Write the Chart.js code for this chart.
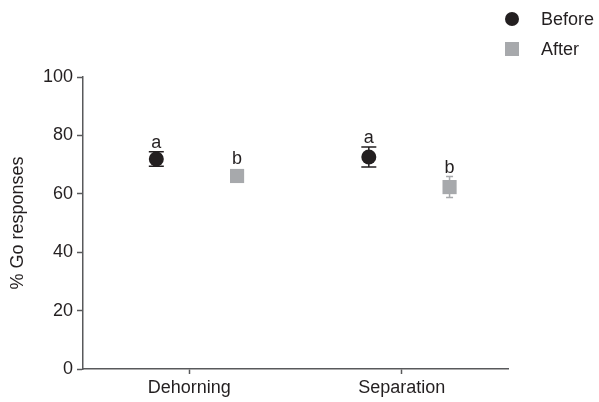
<!DOCTYPE html>
<html>
<head>
<meta charset="utf-8">
<script src="https://cdn.jsdelivr.net/npm/chart.js@4"></script>
<style>
html,body{margin:0;padding:0;background:#fff;}
#wrap{width:599px;height:402px;position:relative;}
</style>
</head>
<body>
<div id="wrap"><canvas id="c"></canvas></div>
<script>
const categories = ['Dehorning', 'Separation'];
const beforeValues = [71.9, 72.6];
const beforeErrors = [2.5, 3.4];
const beforeLetters = ['a', 'a'];
const afterValues = [66.1, 62.3];
const afterErrors = [1.5, 3.6];
const afterLetters = ['b', 'b'];
const yTicks = [0, 20, 40, 60, 80, 100];

const FONT = "'Liberation Sans', Arial, Helvetica, sans-serif";
const FS = 18;
const TEXT_COLOR = '#231f20';
const BEFORE_COLOR = '#231f20';
const AFTER_COLOR = '#a7a9ac';
const AXIS_COLOR = '#58595b';
const BEFORE_OFFSET = -0.31;
const AFTER_OFFSET = 0.45;

function catX(i) { return 1 + 2 * i; }

const datasets = [
  {
    label: 'Before',
    data: beforeValues.map((v, i) => ({x: catX(i) + BEFORE_OFFSET, y: v})),
    errors: beforeErrors, letters: beforeLetters, capHalf: 7.5,
    pointStyle: 'circle', pointRadius: 7.5, pointHoverRadius: 7.5,
    backgroundColor: BEFORE_COLOR, borderColor: BEFORE_COLOR, borderWidth: 0,
    showLine: false
  },
  {
    label: 'After',
    data: afterValues.map((v, i) => ({x: catX(i) + AFTER_OFFSET, y: v})),
    errors: afterErrors, letters: afterLetters, capHalf: 3.5,
    pointStyle: 'rect', pointRadius: 10, pointHoverRadius: 10,
    backgroundColor: AFTER_COLOR, borderColor: AFTER_COLOR, borderWidth: 0,
    showLine: false
  }
];

const errorPlugin = {
  id: 'errorBars',
  beforeDatasetsDraw(chart) {
    const ctx = chart.ctx, ys = chart.scales.y, xs = chart.scales.x;
    chart.data.datasets.forEach(ds => {
      ds.data.forEach((p, i) => {
        const x = xs.getPixelForValue(p.x);
        const top = ys.getPixelForValue(p.y + ds.errors[i]);
        const bot = ys.getPixelForValue(p.y - ds.errors[i]);
        ctx.save();
        ctx.strokeStyle = ds.borderColor;
        ctx.lineWidth = 1.5;
        ctx.beginPath();
        ctx.moveTo(x, top); ctx.lineTo(x, bot);
        ctx.moveTo(x - ds.capHalf, top); ctx.lineTo(x + ds.capHalf, top);
        ctx.moveTo(x - ds.capHalf, bot); ctx.lineTo(x + ds.capHalf, bot);
        ctx.stroke();
        ctx.restore();
      });
    });
  },
  afterDatasetsDraw(chart) {
    const ctx = chart.ctx, ys = chart.scales.y, xs = chart.scales.x;
    chart.data.datasets.forEach(ds => {
      ds.data.forEach((p, i) => {
        const x = xs.getPixelForValue(p.x);
        const cy = ys.getPixelForValue(p.y);
        const top = Math.min(ys.getPixelForValue(p.y + ds.errors[i]), cy - 7.5);
        ctx.save();
        ctx.fillStyle = TEXT_COLOR;
        ctx.font = FS + 'px ' + FONT;
        ctx.textAlign = 'center';
        ctx.textBaseline = 'alphabetic';
        ctx.fillText(ds.letters[i], x, top - 4);
        ctx.restore();
      });
    });
  },
  afterDraw(chart) {
    const ctx = chart.ctx;
    chart.data.datasets.forEach((ds, k) => {
      const y = 19 + k * 30;
      const x = 512;
      ctx.save();
      ctx.fillStyle = ds.backgroundColor;
      if (ds.pointStyle === 'circle') {
        ctx.beginPath(); ctx.arc(x, y, 7, 0, Math.PI * 2); ctx.fill();
      } else {
        ctx.fillRect(x - 7, y - 7, 14, 14);
      }
      ctx.fillStyle = TEXT_COLOR;
      ctx.font = FS + 'px ' + FONT;
      ctx.textAlign = 'left';
      ctx.textBaseline = 'middle';
      ctx.fillText(ds.label, 541, y + 1);
      ctx.restore();
    });
  }
};

new Chart(document.getElementById('c'), {
  type: 'scatter',
  data: { datasets },
  options: {
    responsive: true,
    maintainAspectRatio: false,
    animation: false,
    devicePixelRatio: 1,
    layout: { padding: { top: 77, right: 91, left: 0, bottom: 0 } },
    plugins: { legend: { display: false }, tooltip: { enabled: false } },
    scales: {
      x: {
        type: 'linear', min: 0, max: 4,
        afterBuildTicks(scale) { scale.ticks = categories.map((c, i) => ({value: catX(i)})); },
        afterFit(scale) { scale.height = 33; },
        ticks: {
          callback(v) { const i = (v - 1) / 2; return categories[i] !== undefined ? categories[i] : ''; },
          font: { size: FS, family: FONT }, color: TEXT_COLOR, padding: 3, maxRotation: 0
        },
        grid: { drawOnChartArea: false, drawTicks: true, tickLength: 5, color: AXIS_COLOR, tickWidth: 1.5 },
        border: { display: true, color: AXIS_COLOR, width: 1.5 }
      },
      y: {
        min: 0, max: 100,
        afterBuildTicks(scale) { scale.ticks = yTicks.map(v => ({value: v})); },
        afterFit(scale) { scale.width = 83; },
        ticks: { font: { size: FS, family: FONT }, color: TEXT_COLOR, padding: 4 },
        grid: { drawOnChartArea: false, drawTicks: true, tickLength: 6, color: AXIS_COLOR, tickWidth: 1.5 },
        border: { display: true, color: AXIS_COLOR, width: 1.5 },
        title: { display: true, text: '% Go responses', font: { size: FS, family: FONT }, color: TEXT_COLOR, padding: { top: 7, bottom: 0 } }
      }
    }
  },
  plugins: [errorPlugin]
});
</script>
</body>
</html>
